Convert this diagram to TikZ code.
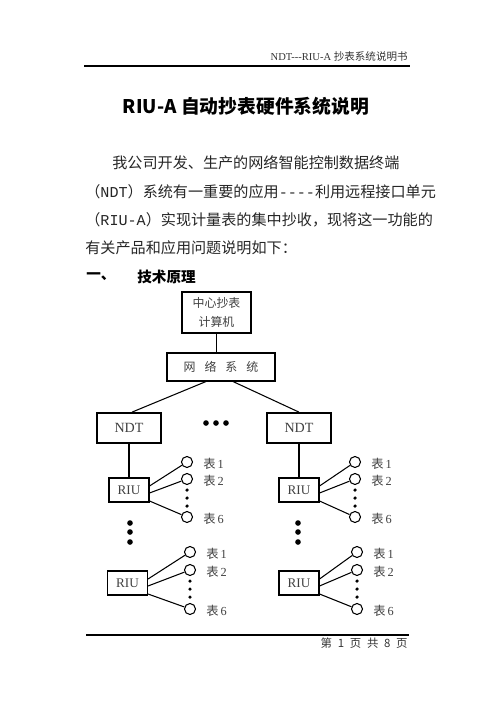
\documentclass[tikz,border=0pt]{standalone}
\usepackage{fontspec}
\setmainfont{Liberation Serif}
\newfontfamily\cjk{Noto Sans CJK SC}
\newfontfamily\mono{Liberation Mono}
\usetikzlibrary{positioning}

\begin{document}
\begin{tikzpicture}[x=0.02cm, y=-0.02cm,
  box/.style={draw, line width=0.6pt, inner sep=0pt, align=center, text=black!75},
  ndtbox/.style={box, line width=1pt, minimum width=1.28cm, minimum height=0.6cm, font=\fontsize{8}{9}\selectfont},
  riubox/.style={box, minimum width=0.8cm, minimum height=0.48cm, font=\fontsize{7.5}{9}\selectfont},
  meter/.style={draw, circle, line width=0.6pt, minimum size=0.22cm, inner sep=0pt},
  mlabel/.style={anchor=west, inner sep=0pt, text=black!75, font=\fontsize{7}{8}\selectfont},
  bodyline/.style={anchor=west, inner sep=0pt, text=black!85, font=\cjk\fontsize{8.6}{10}\selectfont},
  dot/.style={circle, fill, inner sep=0pt, minimum size=3.2pt},
  smalldot/.style={circle, fill, inner sep=0pt, minimum size=2pt}]

\useasboundingbox (0,0) rectangle (501,711);

% --- Page header ---
\node[anchor=base east, inner sep=0pt, font=\fontsize{6}{7}\selectfont, text=black!80] (head) at (408,60) {NDT-{}-{}-RIU-A {\cjk 抄表系统说明书}};
\draw[line width=0.6pt] (84,66) -- (410,66);

% --- Title and text ---
\node[inner sep=0pt, font=\cjk\bfseries\fontsize{10.7}{12}\selectfont] (title) at (246,106) {RIU-A 自动抄表硬件系统说明};

\node[bodyline] (p1) at (112,163) {我公司开发、生产的网络智能控制数据终端};
\node[bodyline] (p2) at (85,192) {（{\mono NDT}）系统有一重要的应用{\mono -{}-{}-{}-}利用远程接口单元};
\node[bodyline] (p3) at (85,220) {（{\mono RIU-A}）实现计量表的集中抄收，现将这一功能的};
\node[bodyline] (p4) at (85,248) {有关产品和应用问题说明如下：};

\node[anchor=west, inner sep=0pt, font=\cjk\bfseries\fontsize{8.3}{10}\selectfont] (secno) at (86,277) {一、};
\node[anchor=west, inner sep=0pt, font=\cjk\bfseries\fontsize{8.3}{10}\selectfont] (sectitle) at (137,277) {技术原理};

% --- Host and network ---
\node[box, minimum width=1.38cm, minimum height=0.82cm, font=\cjk\fontsize{6.8}{10.8}\selectfont] (host) at (216.5,312.5) {中心抄表\\计算机};
\node[box, minimum width=2.16cm, minimum height=0.56cm, font=\cjk\fontsize{6.8}{8}\selectfont] (net) at (221,367) {网\hspace{0.75em}络\hspace{0.75em}系\hspace{0.75em}统};
\draw[line width=0.6pt] (host.south) -- (host.south |- net.north);

% --- NDT terminals ---
\node[ndtbox] (ndtA) at (129,428) {NDT};
\node[ndtbox] (ndtB) at (299,428) {NDT};
\foreach \i/\dx in {1/206,2/216,3/226}
  \node[dot] (ndtdot\i) at (\dx,423) {};
\draw[line width=0.6pt] ([xshift=-3mm]net.south) -- ([xshift=0.6mm]ndtA.north);
\draw[line width=0.6pt] ([xshift=2.4mm]net.south) -- (ndtB.north);

% --- RIU units with meters ---
\foreach \g/\rx/\ry/\cx/\ya/\yb/\yc in {a/129/490/187/462/479/517, b/127.5/583/190/552/570/609,
                                       c/299/490/355/462/479/517, d/299/583/357/552/570/609}{
  \node[riubox] (riu\g) at (\rx,\ry) {RIU};
  \node[meter] (m\g-1) at (\cx,\ya) {};
  \node[meter] (m\g-2) at (\cx,\yb) {};
  \node[meter] (m\g-6) at (\cx,\yc) {};
  \node[mlabel] (l\g-1) at ([xshift=3.2mm,yshift=-0.4mm]m\g-1.center) {{\cjk 表}\,1};
  \node[mlabel] (l\g-2) at ([xshift=3.2mm,yshift=-0.4mm]m\g-2.center) {{\cjk 表}\,2};
  \node[mlabel] (l\g-6) at ([xshift=3.2mm,yshift=-0.4mm]m\g-6.center) {{\cjk 表}\,6};
  \foreach \k in {0,1,2}
    \node[smalldot] (v\g\k) at ({\cx},{\yb+11+8*\k}) {};
  \draw[line width=0.6pt] ([yshift=0.8mm]riu\g.east) -- (m\g-1);
  \draw[line width=0.6pt] ([yshift=-0.6mm]riu\g.east) -- (m\g-2);
  \draw[line width=0.6pt] ([yshift=-2.2mm]riu\g.east) -- (m\g-6);
}
\draw[line width=0.6pt] (ndtA.south) -- (riua.north);
\draw[line width=0.6pt] (ndtB.south) -- (riuc.north);

% vertical dots between RIU rows
\foreach \k/\dy in {1/523,2/532,3/542}{
  \node[dot] (colA\k) at (130,\dy) {};
  \node[dot] (colB\k) at (298,\dy) {};
}

% --- Page footer ---
\draw[line width=0.6pt] (86,635) -- (409,635);
\node[anchor=base east, inner sep=0pt, font=\cjk\fontsize{6.5}{7}\selectfont, text=black!80] (foot) at (408,647) {第\hspace{0.5em}1\hspace{0.5em}页\hspace{0.5em}共\hspace{0.5em}8\hspace{0.5em}页};

\end{tikzpicture}
\end{document}
